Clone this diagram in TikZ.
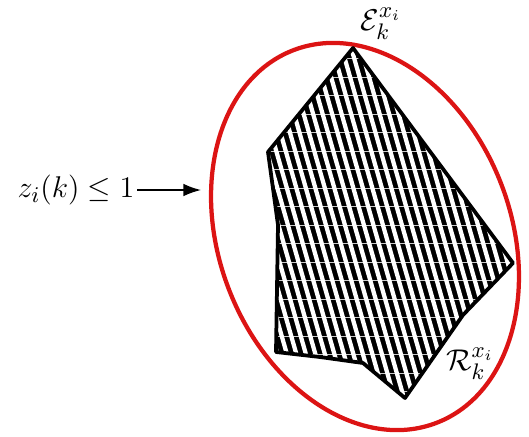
\documentclass[tikz,border=0pt]{standalone}
\usetikzlibrary{arrows.meta}
\definecolor{ellred}{RGB}{220,20,20}
\newcommand{\regionoutline}{(353,48) -- (268,152) -- (278,225) -- (276,352)
    -- (320,357) -- (363,363) -- (405,398) -- (463,315) -- (513,263) -- cycle}

\begin{document}
\begin{tikzpicture}[
    x=0.4pt, y=-0.4pt,
    font=\fontsize{12.9}{15}\selectfont,
    bound/.style={draw=ellred, line width=1.7pt},
    region/.style={draw=black, line width=1.5pt, line join=round},
    stripe/.style={white, line width=1.7pt},
    seam/.style={white, line width=0.3pt, opacity=0.8},
    arrow/.style={-{Latex[length=7pt,width=5pt]}, line width=0.6pt},
    tag/.style={inner sep=1pt}
]
\useasboundingbox (0,0) rectangle (529,436);

% =========================================================
% Ellipse
% =========================================================
\coordinate (ellc) at (365,236.5);
\draw[bound, rotate around={21:(ellc)}] (ellc) ellipse [x radius=146, y radius=199.6];

% =========================================================
% Hatched region
% =========================================================
\begin{scope}
\clip \regionoutline;
\fill[black] \regionoutline;
\foreach \s in {0,...,52}
    \draw[stripe] (100+\s*9.5,0) -- ++(126,440);
\foreach \h in {0,...,24}
    \draw[seam] (200,40+\h*18.5) -- (540,40+\h*18.5);
\end{scope}
\draw[region] \regionoutline;

% =========================================================
% Labels
% =========================================================
\node[tag] (ellname) at (381,24) {$\mathcal{E}_k^{x_i}$};
\node[tag] (regname) at (470,364) {$\mathcal{R}_k^{x_i}$};
\node[tag] (cond) at (76,190) {$z_i(k) \leq 1$};
\coordinate (ellpt) at (201,190);

\draw[arrow] (cond.east) -- (ellpt);

\end{tikzpicture}
\end{document}
